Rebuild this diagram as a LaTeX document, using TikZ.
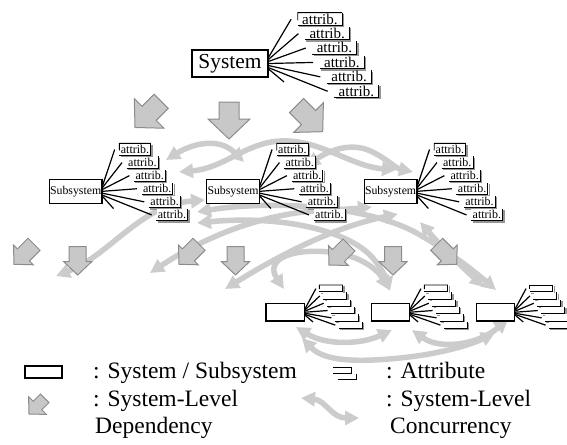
\documentclass[tikz,border=0pt]{standalone}
\usepackage{fontspec}
\setmainfont{Liberation Serif}
\usetikzlibrary{arrows.meta,calc}

\definecolor{depfill}{RGB}{200,200,200}
\definecolor{depline}{RGB}{140,140,140}
\definecolor{concgray}{RGB}{204,204,204}
\definecolor{shadowgray}{RGB}{150,150,150}

\tikzset{
  sysbox/.style={draw=black, line width=1.2pt, fill=white, inner sep=0pt},
  fanline/.style={line width=1.2pt},
  card/.style={fill=white, inner sep=0pt},
  cardedge/.style={line width=0.9pt},
  cardshadow/.style={line width=1.2pt, draw=shadowgray},
  conc/.style={draw=concgray, line width=5.5pt,
    {Triangle[length=14pt,width=14pt]}-{Triangle[length=14pt,width=14pt]}},
  depshape/.style={fill=depfill, draw=depline, line width=1pt},
  depbig/.pic={\path[depshape] (0,0) -- (21,-20) -- (10,-20) -- (10,-37)
      -- (-10,-37) -- (-10,-20) -- (-21,-20) -- cycle;},
  depsmall/.pic={\path[depshape] (0,0) -- (14,-13.3) -- (8.5,-13.3) -- (8.5,-28.3)
      -- (-8.5,-28.3) -- (-8.5,-13.3) -- (-14,-13.3) -- cycle;},
  legtext/.style={font=\fontsize{23.5}{26}\selectfont, inner sep=0pt, anchor=base west},
}

% A fan of six attribute cards hanging off a system box.
% #1 prefix, #2 owner box, #3 #4 top-left of first card, #5 #6 step,
% #7 #8 card size, #9 card label
\newcommand\attrstack[9]{%
  \foreach \k in {1,...,6}{
    \node[card, anchor=north west, minimum width=#7, minimum height=#8]
      (#1\k) at ({#3+(\k-1)*#5},{#4+(\k-1)*#6}) {#9};
    \draw[cardshadow] ([shift={(1.3,1.3)}]#1\k.south west)
      -- ([shift={(1.3,1.3)}]#1\k.south east) -- ([shift={(1.3,1.3)}]#1\k.north east);
    \draw[cardedge] (#1\k.south west) -- (#1\k.south east) -- (#1\k.north east);
    \draw[fanline] ([shift={(0,{(\k-4)*0.17*#8})}]#2.east)
      -- ([shift={({-0.15*#7},{-0.5*#8})}]#1\k.south west);
  }
  \draw[cardedge] ($(#11.north west)!0.6!(#11.south west)$) -- (#11.north west) -- (#11.north east);
  \coordinate (#1tail) at ([shift={({0.35*#7},{1.5*#8})}]#2.east);
  \draw[fanline] ([shift={(0,{0.45*#8})}]#2.east) -- (#1tail);
}

\begin{document}
\begin{tikzpicture}[x=1pt, y=-1pt]
\useasboundingbox (0,0) rectangle (567,444);

% ---------- concurrency between subsystems ----------
\coordinate (t1a) at (166,160); \coordinate (t1b) at (244,162);
\coordinate (t2a) at (179,172); \coordinate (t2b) at (396,170);
\coordinate (t3a) at (306,166); \coordinate (t3b) at (413,172);
\draw[conc] (t1a) .. controls (190,145) and (218,136) .. (t1b);
\draw[conc] (t2a) .. controls (225,168) and (245,143) .. (280,141)
            .. controls (320,139) and (350,166) .. (t2b);
\draw[conc] (t3a) .. controls (330,150) and (350,143) .. (368,150)
            .. controls (385,157) and (395,168) .. (t3b);

\coordinate (m1a) at (56,276);  \coordinate (m1b) at (205,200);
\coordinate (m2a) at (197,212); \coordinate (m2b) at (496,290);
\coordinate (m3a) at (197,223); \coordinate (m3b) at (390,291);
\coordinate (m4a) at (150,273); \coordinate (m4b) at (372,207);
\coordinate (m5a) at (225,289); \coordinate (m5b) at (398,214);
\coordinate (m6a) at (284,289); \coordinate (m6b) at (389,290);
\coordinate (m7a) at (420,222); \coordinate (m7b) at (484,287);
\draw[conc] (m1a) .. controls (110,255) and (140,205) .. (m1b);
\draw[conc] (m2a) .. controls (270,200) and (370,205) .. (420,235)
            .. controls (450,252) and (475,272) .. (m2b);
\draw[conc] (m3a) .. controls (280,215) and (345,230) .. (370,255)
            .. controls (380,265) and (386,278) .. (m3b);
\draw[conc] (m4a) .. controls (200,240) and (260,212) .. (330,210)
            .. controls (350,209) and (362,208) .. (m4b);
\draw[conc] (m5a) .. controls (275,258) and (330,228) .. (m5b);
\draw[conc] (m6a) .. controls (266,262) and (285,248) .. (330,252)
            .. controls (360,255) and (378,270) .. (m6b);
\draw[conc] (m7a) .. controls (440,245) and (460,265) .. (m7b);

\coordinate (b1a) at (296,327); \coordinate (b1b) at (392,330);
\coordinate (b2a) at (302,338); \coordinate (b2b) at (495,333);
\coordinate (b3a) at (412,330); \coordinate (b3b) at (508,319);
\draw[conc] (b1a) .. controls (325,345) and (360,345) .. (b1b);
\draw[conc] (b2a) .. controls (325,362) and (360,362) .. (400,358)
            .. controls (440,354) and (470,345) .. (b2b);
\draw[conc] (b3a) .. controls (440,350) and (478,345) .. (b3b);

% ---------- dependency arrows ----------
\pic[rotate=-45] at (135,127.5) {depbig};
\pic at (229,139) {depbig};
\pic[rotate=45] at (322.7,131.7) {depbig};

\pic[rotate=-45] at (14,264.3) {depsmall};
\pic at (77.7,275) {depsmall};
\pic[rotate=-45] at (179,264.3) {depsmall};
\pic at (235.5,275) {depsmall};
\pic[rotate=-45] at (329,265) {depsmall};
\pic at (393,275) {depsmall};
\pic[rotate=45] at (456.7,264.3) {depsmall};

% ---------- systems and attributes ----------
\node[sysbox, minimum width=76, minimum height=27,
      font=\fontsize{21.4}{24}\selectfont] (sys) at (230,63.5) {System};
\attrstack{ta}{sys}{297.7}{12.7}{7.3}{14.4}{44}{12.3}{\fontsize{15}{15}\selectfont attrib.}

\node[sysbox, minimum width=52.7, minimum height=24,
      font=\fontsize{11.8}{13}\selectfont] (subA) at (75.7,191.3) {Subsystem};
\node[sysbox, minimum width=52.7, minimum height=24,
      font=\fontsize{11.8}{13}\selectfont] (subB) at (233.1,191.3) {Subsystem};
\node[sysbox, minimum width=52.7, minimum height=24,
      font=\fontsize{11.8}{13}\selectfont] (subC) at (390.6,191.3) {Subsystem};
\attrstack{sa}{subA}{119.3}{143.3}{7.4}{13.1}{31}{11.5}{\fontsize{12}{12}\selectfont attrib.}
\attrstack{sb}{subB}{276.7}{143.3}{7.4}{13.1}{31}{11.5}{\fontsize{12}{12}\selectfont attrib.}
\attrstack{sc}{subC}{434.2}{143.3}{7.4}{13.1}{31}{11.5}{\fontsize{12}{12}\selectfont attrib.}

\node[sysbox, minimum width=38.3, minimum height=17.7] (lowA) at (285.2,312.2) {};
\node[sysbox, minimum width=38.3, minimum height=17.7] (lowB) at (390.3,312.2) {};
\node[sysbox, minimum width=38.3, minimum height=17.7] (lowC) at (495.4,312.2) {};
\attrstack{la}{lowA}{319.3}{285}{3.9}{7.3}{23}{6.5}{}
\attrstack{lb}{lowB}{424.4}{285}{3.9}{7.3}{23}{6.5}{}
\attrstack{lc}{lowC}{529.5}{285}{3.9}{7.3}{23}{6.5}{}

% ---------- legend ----------
\node[sysbox, minimum width=37, minimum height=12] (legbox) at (43.5,372) {};
\node[legtext] (legsys) at (93,378) {: System / Subsystem};

\node[card, anchor=north west, minimum width=18, minimum height=6] (lga1) at (333,367) {};
\node[card, anchor=north west, minimum width=18, minimum height=6] (lga2) at (338,373.5) {};
\draw[cardedge] (lga1.north east) -- (lga1.north west);
\draw[cardedge] (lga1.south west) -- (lga1.south east) -- (lga1.north east);
\draw[cardedge] (lga2.south west) -- (lga2.south east) -- (lga2.north east);
\node[legtext] (legattr) at (386,378) {: Attribute};

\pic[rotate=-45, scale=0.6] at (29,414) {depbig};
\node[legtext] (legdep1) at (93,406) {: System-Level};
\node[legtext] (legdep2) at (95,433) {Dependency};

\coordinate (lgc1) at (301,398); \coordinate (lgc2) at (359,418);
\draw[conc] (lgc1) .. controls (325,400) and (332,418) .. (lgc2);
\node[legtext] (legcon1) at (386,406) {: System-Level};
\node[legtext] (legcon2) at (390,433) {Concurrency};
\end{tikzpicture}
\end{document}
